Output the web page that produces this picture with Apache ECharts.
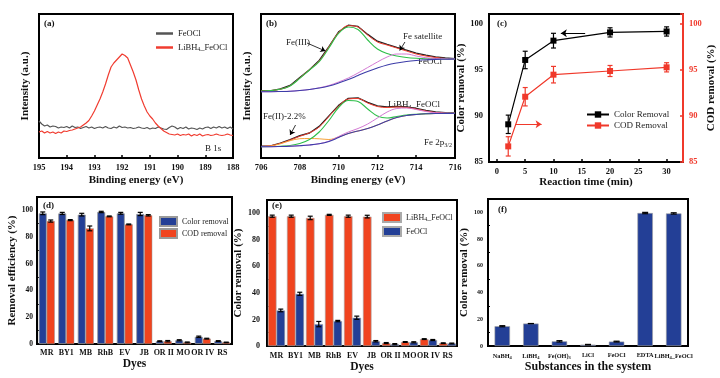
<!DOCTYPE html>
<html><head><meta charset="utf-8">
<script src="https://cdn.jsdelivr.net/npm/echarts@6/dist/echarts.min.js"></script>
<style>html,body{margin:0;padding:0;background:#fff}#c{width:720px;height:378px}</style>
</head><body><div id="c"></div>
<script>
// ---------- (a) B 1s ----------
const aEnergy = [195.0,194.9,194.8,194.7,194.6,194.5,194.4,194.3,194.2,194.1,
194.0,193.9,193.8,193.7,193.6,193.5,193.4,193.3,193.2,193.1,
193.0,192.9,192.8,192.7,192.6,192.5,192.4,192.3,192.2,192.1,
192.0,191.9,191.8,191.7,191.6,191.5,191.4,191.3,191.2,191.1,
191.0,190.9,190.8,190.7,190.6,190.5,190.4,190.3,190.2,190.1,
190.0,189.9,189.8,189.7,189.6,189.5,189.4,189.3,189.2,189.1,
189.0,188.9,188.8,188.7,188.6,188.5,188.4,188.3,188.2,188.1,188.0];
const aGray = [37,34,32,33,31,32,31.5,30,31,30.5,
31.5,30,32,30.5,31,29.5,30.5,31.5,30,31,
29.5,30.5,31,30,31.5,30,29.5,31,30,32,
30.5,31,30,30.5,29.5,30,31,30,29.5,30.5,
29,30,29.5,31,30,29,28.5,30.5,32,31,
29,30.5,29.5,31,29,30,29.5,28.5,30,29,
30.5,31,29.5,31,30,31.5,30,31,29.5,31,29];
const aRed = [26,27,25,26.5,25,26,24.5,26,25,27,
26.5,27.5,28,29,30,31,33,35,37.5,42,
47,53,59,66,74,83,91,95,98,101,
104,102.5,100,93,86,78,68,59,52,46,
42,39,35,32,29.5,27,25.5,24,23.5,23,
24,22.5,23.5,23,24,22,23.5,22.5,24,22,
23,23.5,22.5,23,24,23,22.5,23,24,23,22.5];

// ---------- (b) Fe 2p3/2 ----------
const bEnergy = [706,706.5,707,707.5,708,708.5,709,709.5,710,710.5,711,711.5,712,712.5,713,713.5,714,714.5,715,715.5,716];
const bUpRaw = [67.3,67.2,69.2,72.6,80.6,88.2,97.6,111.5,126.2,132.8,131.6,123.6,116.8,113.7,110.7,107.8,104.9,102.8,101.2,100.1,99.4];
const bUpFit = [67,67.5,68.8,72.2,80,88.5,97,111,125.5,132.3,131,123,116,113,110,107,104,102,100.5,99.5,99];
const bUpFe3 = [67,67.5,68.7,72,79.7,88,96.3,110,124.7,131,128.5,118,109,104.5,102,100.5,99.7,99.3,99.1,99,99];
const bUpSat = [66.3,66.3,66.5,66.8,67.5,68.5,70.2,72.5,76,80,85,90.5,96,101,104,104,102,100.3,99.5,99.1,99];
const bUpBg  = [66.3,66.3,66.5,66.8,67.5,68.5,70,72,75,78.5,82.5,86.5,90,93,95,96.5,97.5,98.2,98.6,98.8,99];
const bLoRaw = [11.9,12.1,15,18.4,22.3,25,31.6,42.1,52.6,59.6,60.1,55.7,52.2,51.2,51.6,51.2,49.6,47.6,46.1,45.4,45.1];
const bLoFit = [11.6,12.3,14.6,18,21.7,25.2,31,41.5,52,59,59.5,55,51.5,50.5,51,50.5,49,47,45.5,45,44.7];
const bLoFe3 = [11.4,11.5,11.8,12.5,14.5,18.5,26,37.5,50.5,57.5,56.5,49,42,40,41.5,43,43.8,44.3,44.5,44.6,44.7];
const bLoFe2 = [11.5,12,14.2,17.3,19.3,19.5,19.2,18.5,21,24.5,27,29.5,33,37,40.5,42.5,43.5,44.2,44.5,44.6,44.7];
const bLoSat = [11.3,11.3,11.5,11.8,12.3,13,14.3,16.8,21.5,26,29.5,34,40,46,49.5,50,48.5,46.5,45.3,44.9,44.7];
const bLoBg  = [11.3,11.3,11.5,11.8,12.3,13,14.2,16.5,20.5,24.5,27,29.5,33,37,40.5,42.5,43.5,44.2,44.5,44.6,44.7];

// ---------- (c) kinetics ----------
const cTime = [2,5,10,20,30];
const cColor = [89.1,96.1,98.2,99.1,99.2];
const cColorErr = [1.0,0.95,0.8,0.5,0.5];
const cCOD = [86.7,92.1,94.5,94.9,95.3];
const cCODErr = [1.05,1.0,0.9,0.6,0.5];
const cTicks = [0,5,10,15,20,25,30];

// ---------- (d) dyes ----------
const dyes = ['MR','BY1','MB','RhB','EV','JB','OR II','MO','OR IV','RS'];
const dColor = [97.8,97.7,96.8,98.8,97.8,97.3,2.1,2.8,5.4,2.2];
const dColorErr = [1.0,0.8,1.0,0.5,0.7,1.2,0.3,0.4,0.5,0.3];
const dCOD = [92.0,92.7,86.5,95.5,89.5,96.3,2.1,1.2,4.0,1.2];
const dCODErr = [0.8,0.4,1.8,0.3,0.3,0.5,0.5,0.3,0.3,0.2];

// ---------- (e) dyes, two catalysts ----------
const eLiBH = [97.8,97.8,96.5,98.8,97.8,97.5,2.2,3.0,5.2,2.1];
const eLiBHErr = [0.8,0.8,1.3,0.4,0.8,1.0,0.4,0.3,0.3,0.3];
const eFeOCl = [26.8,39.3,16.5,18.8,21.3,3.6,1.4,2.8,4.5,1.9];
const eFeOClErr = [1.0,1.2,2.0,0.5,1.2,0.5,0.4,0.4,0.4,0.3];

// ---------- (f) substances ----------
const fCats = ['NaBH4','LiBH4','Fe(OH)3','LiCl','FeOCl','EDTA','LiBH4_FeOCl'];
const fVals = [14.8,16.8,3.5,1.0,3.3,99.5,99.2];
const fErr = [0.4,0,0.5,0.2,0.3,0.5,0.5];

const yTicks100 = [0,20,40,60,80,100];
const cYTicks = [85,90,95,100];

const F = "'Liberation Serif','Times New Roman',serif";
const BLUE = '#233f96', RED = '#f0441f';
const chart = echarts.init(document.getElementById('c'), null, {renderer:'canvas'});

function errRender(frac, side, capW) {
  return function (params, api) {
    const i = api.value(0), v = api.value(1), e = api.value(2);
    const band = api.size([1, 0])[0];
    const p = api.coord([i, v]);
    const x = p[0] + side * band * frac / 2;
    const yt = api.coord([i, v + e])[1], yb = api.coord([i, v - e])[1];
    const w = capW, st = {stroke:'#000', lineWidth:1.2};
    return {type:'group', children:[
      {type:'line', shape:{x1:x,y1:yt,x2:x,y2:yb}, style:st},
      {type:'line', shape:{x1:x-w,y1:yt,x2:x+w,y2:yt}, style:st},
      {type:'line', shape:{x1:x-w,y1:yb,x2:x+w,y2:yb}, style:st}
    ]};
  };
}
function errData(vals, errs) { return vals.map((v,i)=>[i, v, errs[i]]); }
function xyPairs(xs, ys) { return xs.map((x,i)=>[x, ys[i]]); }

const gridBase = {show:true, borderColor:'#000', borderWidth:2, backgroundColor:'rgba(0,0,0,0)'};
const lblBold = (s)=>({fontFamily:F, fontWeight:'bold', fontSize:s, color:'#111'});
const nameStyle = (s)=>({fontFamily:F, fontWeight:'bold', fontSize:s, color:'#111'});
const subRich = {s:{fontFamily:F, fontSize:6, verticalAlign:'bottom', padding:[4,0,0,0]}};

const legendNames = {
  aFeOCl:'FeOCl', aLiBH:'LiBH{s|4}_FeOCl',
  cColor:'Color Removal', cCOD:'COD Removal',
  dColor:'Color removal', dCOD:'COD removal',
  eLiBH:'LiBH{s|4}_FeOCl', eFeOCl:'FeOCl'
};
const fLabel = {'NaBH4':'NaBH{s|4}','LiBH4':'LiBH{s|4}','Fe(OH)3':'Fe(OH){s|3}','LiCl':'LiCl','FeOCl':'FeOCl','EDTA':'EDTA','LiBH4_FeOCl':'LiBH{s|4}_FeOCl'};

function lineS(name, xi, yi, xs, ys, color, w, z) {
  return {type:'line', name, xAxisIndex:xi, yAxisIndex:yi, data:xyPairs(xs, ys), symbol:'none',
    smooth: false, lineStyle:{color, width:w}, itemStyle:{color}, z:z||2};
}
function smoothS(name, xi, yi, xs, ys, color, w, z) {
  const s = lineS(name, xi, yi, xs, ys, color, w, z); s.smooth = 0.35; return s;
}

const option = {
  animation:false,
  backgroundColor:'#fff',
  grid:[
    Object.assign({left:39, top:14, width:194, height:144}, gridBase),
    Object.assign({left:261, top:14, width:194, height:144}, gridBase),
    Object.assign({left:489, top:14, width:194, height:148}, gridBase),
    Object.assign({left:37, top:197, width:195, height:147}, gridBase),
    Object.assign({left:267, top:200, width:190, height:146}, gridBase),
    Object.assign({left:488, top:199, width:200, height:147}, gridBase)
  ],
  xAxis:[
    {gridIndex:0, type:'value', min:188, max:195, interval:1, inverse:true,
      axisLine:{show:false, onZero:false}, splitLine:{show:false},
      axisTick:{inside:true, length:3, lineStyle:{color:'#000', width:1.5}},
      axisLabel:Object.assign({margin:5}, lblBold(8.5)),
      name:'Binding energy (eV)', nameLocation:'middle', nameGap:17, nameTextStyle:nameStyle(11)},
    {gridIndex:1, type:'value', min:706, max:716, interval:2,
      axisLine:{show:false, onZero:false}, splitLine:{show:false},
      axisTick:{inside:true, length:3, lineStyle:{color:'#000', width:1.5}},
      axisLabel:Object.assign({margin:5}, lblBold(8.5)),
      name:'Binding energy (eV)', nameLocation:'middle', nameGap:17, nameTextStyle:nameStyle(11)},
    {gridIndex:2, type:'value', min:-1.4, max:32.9,
      axisLine:{show:false, onZero:false}, splitLine:{show:false},
      axisTick:{inside:true, length:3, customValues:cTicks, lineStyle:{color:'#000', width:1.5}},
      axisLabel:Object.assign({margin:5, customValues:cTicks}, lblBold(8.5)),
      name:'Reaction time (min)', nameLocation:'middle', nameGap:12, nameTextStyle:nameStyle(11)},
    {gridIndex:3, type:'category', data:dyes,
      axisLine:{show:false}, axisTick:{show:false}, splitLine:{show:false},
      axisLabel:Object.assign({margin:5, interval:0}, lblBold(8)),
      name:'Dyes', nameLocation:'middle', nameGap:13, nameTextStyle:nameStyle(11.5)},
    {gridIndex:4, type:'category', data:dyes,
      axisLine:{show:false}, axisTick:{show:false}, splitLine:{show:false},
      axisLabel:Object.assign({margin:6, interval:0}, lblBold(8)),
      name:'Dyes', nameLocation:'middle', nameGap:13, nameTextStyle:nameStyle(11.5)},
    {gridIndex:5, type:'category', data:fCats,
      axisLine:{show:false}, axisTick:{show:false}, splitLine:{show:false},
      axisLabel:Object.assign({margin:6, interval:0, formatter:(v)=>fLabel[v], rich:{s:{fontFamily:F, fontWeight:'bold', fontSize:4.5, verticalAlign:'bottom', padding:[3,0,0,0]}}}, lblBold(6.3)),
      name:'Substances in the system', nameLocation:'middle', nameGap:13, nameTextStyle:nameStyle(12)}
  ],
  yAxis:[
    {gridIndex:0, type:'value', min:0, max:144, axisLine:{show:false, onZero:false}, axisTick:{show:false},
      axisLabel:{show:false}, splitLine:{show:false},
      name:'Intensity (a.u.)', nameLocation:'middle', nameGap:8, nameTextStyle:nameStyle(11)},
    {gridIndex:1, type:'value', min:0, max:144, axisLine:{show:false, onZero:false}, axisTick:{show:false},
      axisLabel:{show:false}, splitLine:{show:false},
      name:'Intensity (a.u.)', nameLocation:'middle', nameGap:8, nameTextStyle:nameStyle(11)},
    {gridIndex:2, type:'value', min:85, max:101.1, interval:5, axisLine:{show:false, onZero:false},
      axisTick:{show:false},
      axisLabel:Object.assign({margin:6, customValues:cYTicks}, lblBold(8.5)), splitLine:{show:false},
      name:'Color removal (%)', nameLocation:'middle', nameGap:15, nameTextStyle:nameStyle(11)},
    {gridIndex:2, type:'value', position:'right', min:85, max:101.1, interval:5,
      axisLine:{show:true, onZero:false, lineStyle:{color:'#f0392b', width:2}},
      axisTick:{inside:true, length:3, lineStyle:{color:'#f0392b', width:1.5}},
      axisLabel:Object.assign({margin:6, customValues:cYTicks}, lblBold(8.5), {color:'#f0392b'}), splitLine:{show:false},
      name:'COD removal (%)', nameLocation:'middle', nameGap:18, nameTextStyle:nameStyle(11)},
    {gridIndex:3, type:'value', min:0, max:110, interval:20, axisLine:{show:false},
      axisTick:{inside:true, length:3, lineStyle:{color:'#000', width:1.2}},
      minorTick:{show:true, splitNumber:2, length:2, lineStyle:{color:'#000', width:1}},
      axisLabel:Object.assign({margin:4, customValues:yTicks100}, lblBold(7.5)), splitLine:{show:false},
      name:'Removal efficiency (%)', nameLocation:'middle', nameGap:16, nameTextStyle:nameStyle(11)},
    {gridIndex:4, type:'value', min:0, max:110, interval:20, axisLine:{show:false},
      axisTick:{inside:true, length:3, lineStyle:{color:'#000', width:1.2}},
      minorTick:{show:true, splitNumber:2, length:2, lineStyle:{color:'#000', width:1}},
      axisLabel:Object.assign({margin:7, customValues:yTicks100}, lblBold(8)), splitLine:{show:false},
      name:'Color removal (%)', nameLocation:'middle', nameGap:18, nameTextStyle:nameStyle(11)},
    {gridIndex:5, type:'value', min:0, max:110, interval:20, axisLine:{show:false},
      axisTick:{inside:true, length:3, lineStyle:{color:'#000', width:1.2}},
      minorTick:{show:true, splitNumber:2, length:2, lineStyle:{color:'#000', width:1}},
      axisLabel:Object.assign({margin:5, customValues:yTicks100}, lblBold(6)), splitLine:{show:false},
      name:'Color removal (%)', nameLocation:'middle', nameGap:14, nameTextStyle:nameStyle(11)}
  ],
  legend:[
    {data:['aFeOCl','aLiBH'], left:156, top:29, padding:0, orient:'vertical', icon:'rect', itemWidth:17, itemHeight:2.5, itemGap:5,
      formatter:(n)=>legendNames[n], textStyle:{fontFamily:F, fontSize:8.5, color:'#222', rich:subRich}},
    {data:['cColor','cCOD'], left:586, top:110, padding:0, orient:'vertical', itemWidth:22, itemHeight:8, itemGap:2,
      formatter:(n)=>legendNames[n], textStyle:{fontFamily:F, fontSize:9, color:'#222'}},
    {data:['dColor','dCOD'], left:159, top:216, padding:0, orient:'vertical', icon:'rect', itemWidth:17, itemHeight:9, itemGap:1,
      formatter:(n)=>legendNames[n], textStyle:{fontFamily:F, fontSize:8, color:'#222'}},
    {data:['eLiBH','eFeOCl'], left:382, top:212, padding:0, orient:'vertical', icon:'rect', itemWidth:18, itemHeight:9, itemGap:3,
      formatter:(n)=>legendNames[n], textStyle:{fontFamily:F, fontSize:8, color:'#222', rich:subRich}}
  ],
  series:[
    // (a)
    lineS('aFeOCl', 0, 0, aEnergy, aGray, '#555555', 1.2, 2),
    lineS('aLiBH', 0, 0, aEnergy, aRed, '#f03c30', 1.2, 3),
    // (b) upper
    lineS('bUpRaw', 1, 1, bEnergy, bUpRaw, '#222222', 1.3, 2),
    smoothS('bUpFit', 1, 1, bEnergy, bUpFit, '#f03c2e', 1, 3),
    smoothS('bUpFe3', 1, 1, bEnergy, bUpFe3, '#2fbf4a', 1.1, 4),
    smoothS('bUpSat', 1, 1, bEnergy, bUpSat, '#d47ad4', 1, 4),
    smoothS('bUpBg', 1, 1, bEnergy, bUpBg, '#3c3ca8', 1.1, 4),
    // (b) lower
    lineS('bLoRaw', 1, 1, bEnergy, bLoRaw, '#222222', 1.3, 2),
    smoothS('bLoFit', 1, 1, bEnergy, bLoFit, '#f03c2e', 1, 3),
    smoothS('bLoFe2', 1, 1, bEnergy, bLoFe2, '#f5a23a', 1, 3),
    smoothS('bLoFe3', 1, 1, bEnergy, bLoFe3, '#2fbf4a', 1.1, 4),
    smoothS('bLoSat', 1, 1, bEnergy, bLoSat, '#d47ad4', 1, 4),
    Object.assign(smoothS('bLoBg', 1, 1, bEnergy, bLoBg, '#3c3ca8', 1.1, 5), {
      markLine:{silent:true, symbol:['none','arrow'], symbolSize:5, label:{show:false},
        lineStyle:{color:'#000', width:0.8, type:'solid'},
        data:[
          [{coord:[708.37,115]},{coord:[709.32,107]}],
          [{coord:[713.42,116]},{coord:[713.15,107.5]}],
          [{coord:[707.78,33]},{coord:[707.5,23]}]
        ]}
    }),
    // (c)
    {type:'line', name:'cColor', xAxisIndex:2, yAxisIndex:2, data:xyPairs(cTime, cColor), symbol:'rect', symbolSize:6,
      lineStyle:{color:'#000', width:1.2}, itemStyle:{color:'#000'}, z:3,
      markLine:{silent:true, symbol:['none','arrow'], symbolSize:6, label:{show:false},
        lineStyle:{color:'#000', width:1, type:'solid'},
        data:[[{coord:[15.6,99.0]},{coord:[11.3,99.0]}]]}},
    {type:'line', name:'cCOD', xAxisIndex:2, yAxisIndex:3, data:xyPairs(cTime, cCOD), symbol:'rect', symbolSize:6,
      lineStyle:{color:'#f0392b', width:1.2}, itemStyle:{color:'#f0392b'}, z:3,
      markLine:{silent:true, symbol:['none','arrow'], symbolSize:6, label:{show:false},
        lineStyle:{color:'#f0392b', width:1, type:'solid'},
        data:[[{coord:[3.2,89.1]},{coord:[7.9,89.1]}]]}},
    {type:'custom', name:'cColorErr', xAxisIndex:2, yAxisIndex:2, renderItem:errRender(0,0,2.5),
      data:cTime.map((t,i)=>[t,cColor[i],cColorErr[i]]), encode:{x:0,y:1}, z:4},
    {type:'custom', name:'cCODErr', xAxisIndex:2, yAxisIndex:3, renderItem:(p,api)=>{
        const g = errRender(0,0,2.5)(p,api); g.children.forEach(c=>c.style={stroke:'#f0392b',lineWidth:1.2}); return g;},
      data:cTime.map((t,i)=>[t,cCOD[i],cCODErr[i]]), encode:{x:0,y:1}, z:4},
    // (d)
    {type:'bar', name:'dColor', xAxisIndex:3, yAxisIndex:4, data:dColor, barWidth:'41%', barGap:'0%',
      itemStyle:{color:BLUE, borderColor:'#9a9a9a', borderWidth:0.8}},
    {type:'bar', name:'dCOD', xAxisIndex:3, yAxisIndex:4, data:dCOD, barWidth:'41%', barGap:'0%',
      itemStyle:{color:RED, borderColor:'#9a9a9a', borderWidth:0.5}},
    {type:'custom', xAxisIndex:3, yAxisIndex:4, renderItem:errRender(0.41,-1,2.5), data:errData(dColor,dColorErr), encode:{x:0,y:1}, z:5},
    {type:'custom', xAxisIndex:3, yAxisIndex:4, renderItem:errRender(0.41,1,2.5), data:errData(dCOD,dCODErr), encode:{x:0,y:1}, z:5},
    // (e)
    {type:'bar', name:'eLiBH', xAxisIndex:4, yAxisIndex:5, data:eLiBH, barWidth:'45%', barGap:'0%',
      itemStyle:{color:RED, borderColor:'#aaaaaa', borderWidth:0.6}},
    {type:'bar', name:'eFeOCl', xAxisIndex:4, yAxisIndex:5, data:eFeOCl, barWidth:'45%', barGap:'0%',
      itemStyle:{color:BLUE, borderColor:'#aaaaaa', borderWidth:0.6}},
    {type:'custom', xAxisIndex:4, yAxisIndex:5, renderItem:errRender(0.45,-1,2.5), data:errData(eLiBH,eLiBHErr), encode:{x:0,y:1}, z:5},
    {type:'custom', xAxisIndex:4, yAxisIndex:5, renderItem:errRender(0.45,1,2.5), data:errData(eFeOCl,eFeOClErr), encode:{x:0,y:1}, z:5},
    // (f)
    {type:'bar', name:'fVals', xAxisIndex:5, yAxisIndex:6, data:fVals, barWidth:'54%',
      itemStyle:{color:BLUE, borderColor:'#a0a0a0', borderWidth:0.6}},
    {type:'custom', xAxisIndex:5, yAxisIndex:6, renderItem:errRender(0,0,3), data:errData(fVals,fErr), encode:{x:0,y:1}, z:5}
  ],
  graphic:[
    {type:'text', x:44, y:24, style:{text:'(a)', font:"bold 9px 'Liberation Serif', serif", fill:'#111', verticalAlign:'middle'}},
    {type:'text', x:205, y:149, style:{text:'B 1s', font:"9px 'Liberation Serif', serif", fill:'#222', verticalAlign:'middle'}},
    {type:'text', x:266, y:24, style:{text:'(b)', font:"bold 9px 'Liberation Serif', serif", fill:'#111', verticalAlign:'middle'}},
    {type:'text', x:286, y:43, style:{text:'Fe(III)', font:"9px 'Liberation Serif', serif", fill:'#222', verticalAlign:'middle'}},
    {type:'text', x:403, y:37, style:{text:'Fe satellite', font:"9px 'Liberation Serif', serif", fill:'#222', verticalAlign:'middle'}},
    {type:'text', x:418, y:62, style:{text:'FeOCl', font:"9px 'Liberation Serif', serif", fill:'#222', verticalAlign:'middle'}},
    {type:'text', x:388, y:105, style:{text:'LiBH{s|4}_FeOCl', font:"9px 'Liberation Serif', serif", fill:'#222', verticalAlign:'middle', rich:subRich}},
    {type:'text', x:263, y:117, style:{text:'Fe(II)-2.2%', font:"9px 'Liberation Serif', serif", fill:'#222', verticalAlign:'middle'}},
    {type:'text', x:424, y:143, style:{text:'Fe 2p{s|3/2}', font:"9px 'Liberation Serif', serif", fill:'#222', verticalAlign:'middle', rich:subRich}},
    {type:'text', x:497, y:24, style:{text:'(c)', font:"bold 9px 'Liberation Serif', serif", fill:'#111', verticalAlign:'middle'}},
    {type:'text', x:43, y:206, style:{text:'(d)', font:"bold 9px 'Liberation Serif', serif", fill:'#111', verticalAlign:'middle'}},
    {type:'text', x:272, y:206, style:{text:'(e)', font:"bold 9px 'Liberation Serif', serif", fill:'#111', verticalAlign:'middle'}},
    {type:'text', x:498, y:210, style:{text:'(f)', font:"bold 9px 'Liberation Serif', serif", fill:'#111', verticalAlign:'middle'}}
  ]
};
chart.setOption(option);
</script></body></html>
